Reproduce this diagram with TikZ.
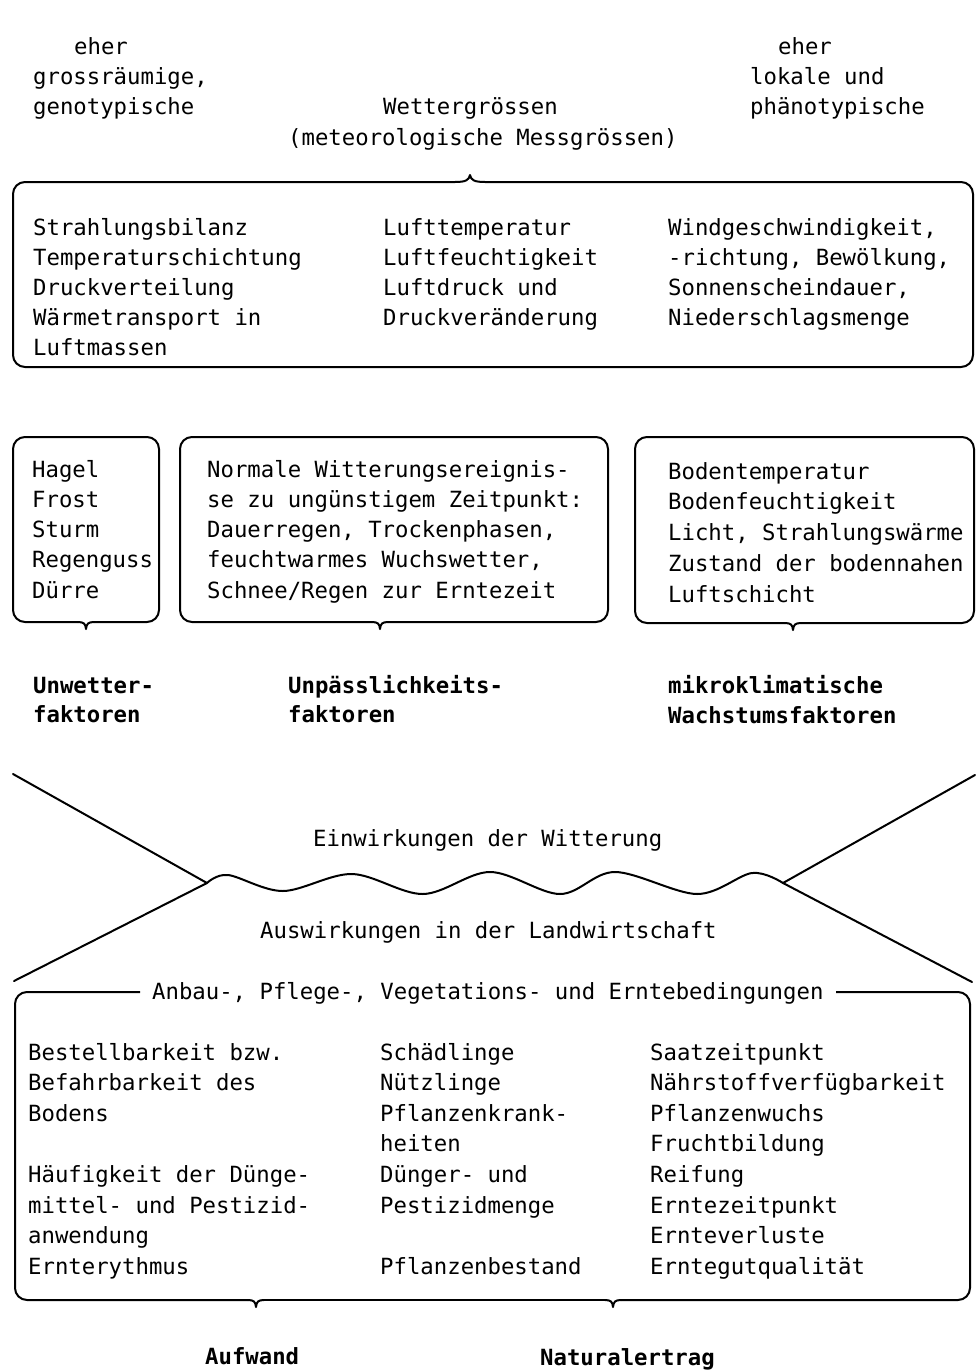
\documentclass[tikz,border=0pt]{standalone}
\usepackage{fontspec}
\newfontfamily\mono{DejaVu Sans Mono}
\newcommand\rows[2]{{\fontsize{22.3}{#1}\selectfont\begin{tabular}[t]{@{}l@{}}#2\end{tabular}}}
\tikzset{
  txt/.style={font=\mono\fontsize{22.3}{30}\selectfont, inner sep=0pt, anchor=base west},
  btxt/.style={txt, font=\mono\bfseries\fontsize{22.3}{30}\selectfont},
  frame/.style={line width=2pt, rounded corners=12pt},
  wline/.style={line width=2pt, line join=round, line cap=round}
}
\begin{document}
\begin{tikzpicture}[x=1pt,y=-1pt]
\useasboundingbox (0,0) rectangle (976,1371);

% top texts
\node[txt] (e1) at (74,54) {eher};
\node[txt] (e2) at (33,84) {grossräumige,};
\node[txt] (e3) at (33,114) {genotypische};
\node[txt] (w1) at (383,114) {Wettergrössen};
\node[txt] (w2) at (288,145) {(meteorologische Messgrössen)};
\node[txt] (r1) at (778,54) {eher};
\node[txt] (r2) at (750,84) {lokale und};
\node[txt] (r3) at (750,114) {phänotypische};

% top box
\draw[frame] (455,182) -- (13,182) -- (13,367) -- (973,367) -- (973,182) -- (485,182);
\draw[wline] (455,182) .. controls (466,182) and (469,180) .. (470,175)
             .. controls (471,180) and (474,182) .. (485,182);
\node[txt] (t1) at (33,235) {\rows{30}{Strahlungsbilanz\\Temperaturschichtung\\Druckverteilung\\Wärmetransport in\\Luftmassen}};
\node[txt] (t2) at (383,235) {\rows{30}{Lufttemperatur\\Luftfeuchtigkeit\\Luftdruck und\\Druckveränderung}};
\node[txt] (t3) at (668,235) {\rows{30}{Windgeschwindigkeit,\\-richtung, Bewölkung,\\Sonnenscheindauer,\\Niederschlagsmenge}};

% row 2 boxes
\draw[frame] (78,622) -- (13,622) -- (13,437) -- (159,437) -- (159,622) -- (94,622);
\draw[wline] (78,622) .. controls (84,622) and (85.5,624) .. (86,629) .. controls (86.5,624) and (88,622) .. (94,622);
\draw[frame] (372,622) -- (180,622) -- (180,437) -- (608,437) -- (608,622) -- (388,622);
\draw[wline] (372,622) .. controls (378,622) and (379.5,624) .. (380,629) .. controls (380.5,624) and (382,622) .. (388,622);
\draw[frame] (785,623) -- (635,623) -- (635,437) -- (974,437) -- (974,623) -- (801,623);
\draw[wline] (785,623) .. controls (791,623) and (792.5,625) .. (793,630) .. controls (793.5,625) and (795,623) .. (801,623);

\node[txt] (a1) at (32,477) {\rows{30.3}{Hagel\\Frost\\Sturm\\Regenguss\\Dürre}};
\node[txt] (b1) at (207,477) {\rows{30.3}{Normale Witterungsereignis-\\se zu ungünstigem Zeitpunkt:\\Dauerregen, Trockenphasen,\\feuchtwarmes Wuchswetter,\\Schnee/Regen zur Erntezeit}};
\node[txt] (c1) at (668,479) {\rows{30.8}{Bodentemperatur\\Bodenfeuchtigkeit\\Licht, Strahlungswärme\\Zustand der bodennahen\\Luftschicht}};

% row 3 labels
\node[btxt] (u1) at (33,693) {\rows{29}{Unwetter-\\faktoren}};
\node[btxt] (u2) at (288,693) {\rows{29}{Unpässlichkeits-\\faktoren}};
\node[btxt] (u3) at (668,693) {\rows{30}{mikroklimatische\\Wachstumsfaktoren}};

% X shape with wave
\coordinate (xl) at (207,883);
\coordinate (xr) at (783,883);
\coordinate (lt) at (13,774);
\coordinate (lb) at (14,981);
\coordinate (rt) at (975,775);
\coordinate (rb) at (972,982);
\draw[wline] (lt) -- (xl) -- (lb);
\draw[wline] (rt) -- (xr) -- (rb);
\draw[wline] plot[smooth, tension=0.55] coordinates {(207,883) (228,875) (283,891) (352,874) (423,894) (490,872) (560,894) (615,872) (697,894) (752,873) (783,883)};
\node[txt] (ein) at (313,846) {Einwirkungen der Witterung};
\node[txt] (aus) at (260,938) {Auswirkungen in der Landwirtschaft};

% bottom box
\node[txt] (title) at (152,999) {Anbau-, Pflege-, Vegetations- und Erntebedingungen};
\draw[frame] (140,992) -- (15,992) -- (15,1300) -- (248,1300);
\draw[frame] (264,1300) -- (605,1300);
\draw[frame] (621,1300) -- (970,1300) -- (970,992) -- (836,992);
\draw[wline] (248,1300) .. controls (254,1300) and (255.5,1302) .. (256,1307) .. controls (256.5,1302) and (258,1300) .. (264,1300);
\draw[wline] (605,1300) .. controls (611,1300) and (612.5,1302) .. (613,1307) .. controls (613.5,1302) and (615,1300) .. (621,1300);

\node[txt] (d1) at (28,1060) {\rows{30.6}{Bestellbarkeit bzw.\\Befahrbarkeit des\\Bodens\\ \\Häufigkeit der Dünge-\\mittel- und Pestizid-\\anwendung\\Ernterythmus}};
\node[txt] (d2) at (380,1060) {\rows{30.6}{Schädlinge\\Nützlinge\\Pflanzenkrank-\\heiten\\Dünger- und\\Pestizidmenge\\ \\Pflanzenbestand}};
\node[txt] (d3) at (650,1060) {\rows{30.6}{Saatzeitpunkt\\Nährstoffverfügbarkeit\\Pflanzenwuchs\\Fruchtbildung\\Reifung\\Erntezeitpunkt\\Ernteverluste\\Erntegutqualität}};

% bottom labels
\node[btxt] (auf) at (205,1364) {Aufwand};
\node[btxt] (nat) at (540,1365) {Naturalertrag};
\end{tikzpicture}
\end{document}
